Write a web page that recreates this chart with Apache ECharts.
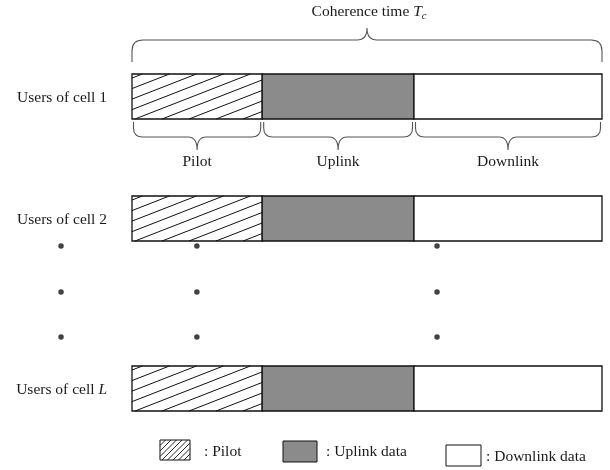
<!DOCTYPE html>
<html><head><meta charset="utf-8">
<script src="https://cdn.jsdelivr.net/npm/echarts@6/dist/echarts.min.js"></script>
<style>html,body{margin:0;padding:0;background:#fff}#c{width:610px;height:470px}</style>
</head><body><div id="c"></div>
<script>
// ---- data (percent of coherence time / vertical lanes) ----
const segmentNames = ['Pilot', 'Uplink', 'Downlink'];
const segmentShares = [27.7, 32.3, 40.0];
const rowLabels = ['Users of cell 1', 'Users of cell 2', 'Users of cell L'];
const rowLanes = [96.5, 218.5, 388.5];
const dotColumns = [-15.1, 13.8, 64.9];
const dotLanes = [246, 292, 337];
const titleParts = ['Coherence time ', 'T', 'c'];
const legendLabels = [': Pilot', ': Uplink data', ': Downlink data'];

// ---- derived ----
const bounds = [0];
segmentShares.forEach(v => bounds.push(+(bounds[bounds.length - 1] + v).toFixed(2)));
const barData = [];
rowLanes.forEach(lane => segmentShares.forEach((v, i) => barData.push([bounds[i], bounds[i + 1], lane, i])));
const braceData = segmentNames.map((n, i) => [bounds[i], bounds[i + 1], rowLanes[0], n]);
const dotData = [];
dotLanes.forEach(l => dotColumns.forEach(x => dotData.push([x, l])));

const FONT = "'Liberation Serif','Times New Roman',serif";
const TXT = '#1a1a1a';
const FS = 15.5;
const fills = ['#ffffff', '#8b8b8b', '#ffffff'];

function hatch(x0, y0, x1, y1, step, slope, phase, style) {
  const run = (y1 - y0) / slope, out = [];
  let c = x0 + phase;
  while (c - step > x0 - run) c -= step;
  for (; c < x1; c += step) {
    const xa = Math.max(x0, c), xb = Math.min(x1, c + run);
    if (xb <= xa) continue;
    out.push({ type: 'line', shape: { x1: xa, y1: y1 - (xa - c) * slope, x2: xb, y2: y1 - (xb - c) * slope }, style });
  }
  return out;
}
function bracePath(xL, xR, ya, yb, yt, r, tw) {
  const xc = (xL + xR) / 2, sa = Math.sign(ya - yb);
  return `M${xL},${ya} L${xL},${yb + sa * r} Q${xL},${yb} ${xL + r},${yb} L${xc - tw},${yb} Q${xc},${yb} ${xc},${yt} ` +
    `Q${xc},${yb} ${xc + tw},${yb} L${xR - r},${yb} Q${xR},${yb} ${xR},${yb + sa * r} L${xR},${ya}`;
}
const BAR_H = 45;

const legendEls = [
  { type: 'rect', shape: { x: 160, y: 440, width: 30, height: 20 }, style: { fill: '#fff' } },
  ...hatch(160, 440, 190, 460, 5.5, 1, 2, { stroke: '#111', lineWidth: 0.9 }),
  { type: 'rect', shape: { x: 160, y: 440, width: 30, height: 20 }, style: { fill: 'none', stroke: '#111', lineWidth: 1 } },
  { type: 'text', x: 204, y: 452, style: { text: legendLabels[0], verticalAlign: 'middle', fontFamily: FONT, fontSize: FS, fill: TXT } },
  { type: 'rect', shape: { x: 283, y: 441, width: 34, height: 21 }, style: { fill: '#8b8b8b', stroke: '#111', lineWidth: 1 } },
  { type: 'text', x: 326, y: 452, style: { text: legendLabels[1], verticalAlign: 'middle', fontFamily: FONT, fontSize: FS, fill: TXT } },
  { type: 'rect', shape: { x: 446, y: 445, width: 35, height: 21 }, style: { fill: '#fff', stroke: '#111', lineWidth: 1 } },
  { type: 'text', x: 486, y: 457, style: { text: legendLabels[2], verticalAlign: 'middle', fontFamily: FONT, fontSize: FS, fill: TXT } }
];

const chart = echarts.init(document.getElementById('c'), null, { renderer: 'canvas' });
chart.setOption({
  animation: false,
  backgroundColor: '#fff',
  grid: { left: 132, right: 8, top: 0, bottom: 0 },
  xAxis: { type: 'value', min: 0, max: 100, show: false },
  yAxis: { type: 'value', min: 0, max: 470, inverse: true, show: false },
  series: [
    { // bars
      type: 'custom', data: barData, clip: false,
      renderItem(params, api) {
        const s = api.value(0), e = api.value(1), lane = api.value(2), t = api.value(3);
        const p0 = api.coord([s, lane]), p1 = api.coord([e, lane]);
        const x0 = p0[0], x1 = p1[0], y0 = p0[1] - BAR_H / 2, y1 = p0[1] + BAR_H / 2;
        const ch = [{ type: 'rect', shape: { x: x0, y: y0, width: x1 - x0, height: BAR_H }, style: { fill: fills[t] } }];
        if (t === 0) ch.push(...hatch(x0, y0, x1, y1, 27, 0.39, 3, { stroke: '#111', lineWidth: 1 }));
        ch.push({ type: 'rect', shape: { x: x0, y: y0, width: x1 - x0, height: BAR_H }, style: { fill: 'none', stroke: '#111', lineWidth: 1.3 } });
        return { type: 'group', children: ch };
      }
    },
    { // top brace + title
      type: 'custom', data: [[bounds[0], bounds[bounds.length - 1], rowLanes[0]]], clip: false,
      renderItem(params, api) {
        const pL = api.coord([api.value(0), api.value(2)]), pR = api.coord([api.value(1), api.value(2)]);
        const top = pL[1] - BAR_H / 2;
        return { type: 'group', children: [
          { type: 'path', shape: { pathData: bracePath(pL[0], pR[0], top - 12, top - 34, top - 46, 11, 10) }, style: { fill: 'none', stroke: '#555', lineWidth: 1.1 } },
          { type: 'text', x: (pL[0] + pR[0]) / 2 + 2, y: top - 62, style: {
            text: `{n|${titleParts[0]}}{i|${titleParts[1]}}{s|${titleParts[2]}}`, align: 'center', verticalAlign: 'middle',
            rich: { n: { fontFamily: FONT, fontSize: FS, fill: TXT }, i: { fontFamily: FONT, fontSize: FS, fontStyle: 'italic', fill: TXT },
              s: { fontFamily: FONT, fontSize: 10.5, fontStyle: 'italic', fill: TXT, padding: [9, 0, 0, 0] } } } }
        ] };
      }
    },
    { // segment braces + labels
      type: 'custom', data: braceData, clip: false,
      renderItem(params, api) {
        const lane = api.value(2);
        const pL = api.coord([api.value(0), lane]), pR = api.coord([api.value(1), lane]);
        const bot = pL[1] + BAR_H / 2;
        return { type: 'group', children: [
          { type: 'path', shape: { pathData: bracePath(pL[0] + 1.5, pR[0] - 1.5, bot + 3, bot + 18, bot + 31, 9, 9) }, style: { fill: 'none', stroke: '#555', lineWidth: 1.1 } },
          { type: 'text', x: (pL[0] + pR[0]) / 2, y: bot + 43, style: { text: braceData[params.dataIndex][3], align: 'center', verticalAlign: 'middle', fontFamily: FONT, fontSize: FS, fill: TXT } }
        ] };
      }
    },
    { // row labels
      type: 'custom', data: rowLanes.map((l, i) => [0, l, i]), clip: false,
      renderItem(params, api) {
        const p = api.coord([api.value(0), api.value(1)]);
        const lbl = rowLabels[params.dataIndex];
        const last = lbl.slice(-1);
        const txt = /[A-Za-z]/.test(last) ? `{n|${lbl.slice(0, -1)}}{i|${last}}` : `{n|${lbl}}`;
        return { type: 'text', x: p[0] - 25, y: p[1] + 1, style: { text: txt, align: 'right', verticalAlign: 'middle',
          rich: { n: { fontFamily: FONT, fontSize: FS, fill: TXT }, i: { fontFamily: FONT, fontSize: FS, fontStyle: 'italic', fill: TXT } } } };
      }
    },
    { // vertical ellipsis dots
      type: 'scatter', data: dotData, clip: false, symbol: 'circle', symbolSize: 5.5,
      itemStyle: { color: '#111' }, silent: true
    }
  ],
  graphic: legendEls
});
</script></body></html>
